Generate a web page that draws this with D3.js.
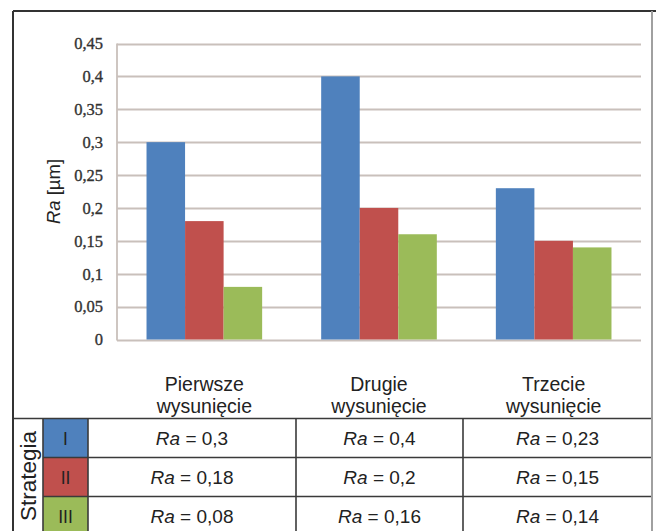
<!DOCTYPE html>
<html>
<head>
<meta charset="utf-8">
<script src="https://cdn.jsdelivr.net/npm/d3@7/dist/d3.min.js"></script>
<style>
  html, body { margin: 0; padding: 0; background: #fff; }
  svg { display: block; }
</style>
</head>
<body>
<svg id="chart" width="656" height="531"></svg>
<script>
// Chart data
const categories = ["Pierwsze wysunięcie", "Drugie wysunięcie", "Trzecie wysunięcie"];
const strategies = ["I", "II", "III"];
const strategyI = [0.3, 0.4, 0.23];
const strategyII = [0.18, 0.2, 0.15];
const strategyIII = [0.08, 0.16, 0.14];
const yTicks = [0, 0.05, 0.1, 0.15, 0.2, 0.25, 0.3, 0.35, 0.4, 0.45];
const colors = ["#4F81BD", "#C0504D", "#9BBB59"];

const series = [strategyI, strategyII, strategyIII];
const fmt = v => String(v).replace(".", ",");

const svg = d3.select("#chart");
const W = 656, H = 531;

// Layout
const frame = { left: 13, top: 11, right: 652 };
const plot = { left: 117, right: 641, top: 43.5, bottom: 339.5 };
const tableTop = 418.5;
const rowH = 39;
const colEdges = [13, 43, 88, 296, 463, 652];
const gridColor = "#c9c0bb";
const lineColor = "#3a3a3a";
const sans = "'Liberation Sans', Arial, sans-serif";

// Scales
const x0 = d3.scaleBand().domain(categories).range([plot.left, plot.right])
  .paddingInner(0.338).paddingOuter(0.169);
const x1 = d3.scaleBand().domain(strategies).range([0, x0.bandwidth()]);
const y = d3.scaleLinear().domain([0, 0.45]).range([plot.bottom, plot.top]);

// Gridlines
svg.append("g").selectAll("line").data(yTicks).join("line")
  .attr("x1", plot.left).attr("x2", plot.right)
  .attr("y1", d => Math.round(y(d)) + 0.5).attr("y2", d => Math.round(y(d)) + 0.5)
  .attr("stroke", gridColor).attr("stroke-width", 1.8);

// Vertical axis line
svg.append("line")
  .attr("x1", plot.left).attr("x2", plot.left)
  .attr("y1", y(0.45)).attr("y2", y(0) + 1)
  .attr("stroke", gridColor).attr("stroke-width", 1.8);

// Y tick labels
const yAxis = d3.axisLeft(y).tickValues(yTicks).tickFormat(fmt).tickSize(0).tickPadding(14);
const yG = svg.append("g").attr("transform", `translate(${plot.left},0)`).call(yAxis);
yG.select(".domain").remove();
yG.selectAll("text")
  .attr("font-family", "'Liberation Serif', 'Times New Roman', serif")
  .attr("font-size", 16.5).attr("fill", "#333")
  .attr("stroke", "#333").attr("stroke-width", 0.35);

// Bars
const groups = svg.append("g").selectAll("g").data(categories).join("g")
  .attr("transform", d => `translate(${x0(d)},0)`);
groups.selectAll("rect")
  .data((c, ci) => strategies.map((s, si) => ({ s, si, v: series[si][ci] })))
  .join("rect")
  .attr("x", d => x1(d.s))
  .attr("width", x1.bandwidth())
  .attr("y", d => y(d.v))
  .attr("height", d => y(0) - y(d.v))
  .attr("fill", d => colors[d.si]);

// Y axis title
const yTitle = svg.append("text")
  .attr("transform", `translate(60,${(plot.top + plot.bottom) / 2}) rotate(-90)`)
  .attr("text-anchor", "middle")
  .attr("font-family", sans)
  .attr("font-size", 18.5).attr("fill", "#222");
yTitle.append("tspan").attr("font-style", "italic").text("Ra");
yTitle.append("tspan").text(" [µm]");

// Category labels (two lines)
svg.append("g").selectAll("text").data(categories).join("text")
  .attr("text-anchor", "middle")
  .attr("font-family", sans)
  .attr("font-size", 19.5).attr("fill", "#222")
  .each(function (d) {
    const parts = d.split(" ");
    const t = d3.select(this);
    const cx = x0(d) + x0.bandwidth() / 2;
    parts.forEach((p, i) => {
      t.append("tspan").attr("x", cx).attr("y", 391 + i * 22).text(p);
    });
  });

// Table: colour cells
const rowY = i => tableTop + i * rowH;
svg.append("g").selectAll("rect").data(strategies).join("rect")
  .attr("x", colEdges[1]).attr("width", colEdges[2] - colEdges[1])
  .attr("y", (d, i) => rowY(i)).attr("height", rowH)
  .attr("fill", (d, i) => colors[i]);

svg.append("g").selectAll("text").data(strategies).join("text")
  .attr("x", (colEdges[1] + colEdges[2]) / 2)
  .attr("y", (d, i) => rowY(i) + rowH / 2 + 6.5)
  .attr("text-anchor", "middle")
  .attr("font-family", sans)
  .attr("font-size", 17.5).attr("fill", "#222")
  .text(d => d);

// Table: value cells
const cells = [];
series.forEach((vals, si) => vals.forEach((v, ci) => cells.push({ si, ci, v })));
const cellText = svg.append("g").selectAll("text").data(cells).join("text")
  .attr("x", d => (colEdges[d.ci + 2] + colEdges[d.ci + 3]) / 2)
  .attr("y", d => rowY(d.si) + rowH / 2 + 7)
  .attr("text-anchor", "middle")
  .attr("font-family", sans)
  .attr("font-size", 19).attr("fill", "#222");
cellText.append("tspan").attr("font-style", "italic").text("Ra");
cellText.append("tspan").text(d => " = " + fmt(d.v));

// "Strategia" rotated label
svg.append("text")
  .attr("transform", `translate(${(colEdges[0] + colEdges[1]) / 2 + 8},${tableTop + 1.5 * rowH - 1}) rotate(-90)`)
  .attr("text-anchor", "middle")
  .attr("font-family", sans)
  .attr("font-size", 22.5).attr("fill", "#222")
  .text("Strategia");

// Table lines
const tl = svg.append("g").attr("stroke", lineColor).attr("stroke-width", 1.6);
tl.append("line").attr("x1", frame.left).attr("x2", frame.right).attr("y1", tableTop).attr("y2", tableTop);
[1, 2, 3].forEach(i => {
  tl.append("line").attr("x1", colEdges[1]).attr("x2", frame.right)
    .attr("y1", rowY(i)).attr("y2", rowY(i));
});
[1, 2, 3, 4].forEach(i => {
  tl.append("line").attr("x1", colEdges[i]).attr("x2", colEdges[i])
    .attr("y1", tableTop).attr("y2", H);
});

// Outer frame
svg.append("line").attr("x1", frame.left).attr("x2", W).attr("y1", frame.top).attr("y2", frame.top)
  .attr("stroke", "#333").attr("stroke-width", 2);
svg.append("line").attr("x1", frame.left).attr("x2", frame.left).attr("y1", frame.top).attr("y2", H)
  .attr("stroke", "#333").attr("stroke-width", 2);
svg.append("line").attr("x1", frame.right).attr("x2", frame.right).attr("y1", frame.top).attr("y2", H)
  .attr("stroke", "#a0a0a0").attr("stroke-width", 2);
</script>
</body>
</html>
